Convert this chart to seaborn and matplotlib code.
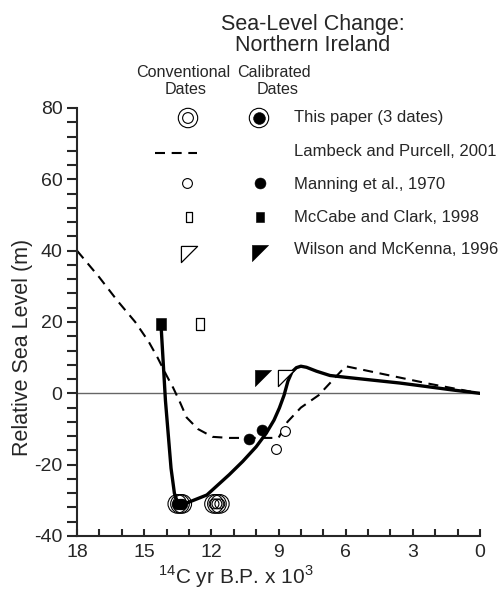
import matplotlib
matplotlib.use("Agg")
import matplotlib.pyplot as plt
import seaborn as sns
import numpy as np

# ---------------- data ----------------
# Calibrated sea-level curve (solid)
curve_x = [14.25, 14.05, 13.8, 13.65, 13.5, 13.3, 13.0, 12.2, 11.2, 10.6, 10.0, 9.55, 9.2, 8.96,
           8.75, 8.58, 8.4, 8.2, 8.0, 7.75, 7.3, 6.7, 6.0, 4.5, 3.6, 2.5, 1.3, 0.0]
curve_y = [19.5, -2.0, -21.0, -28.0, -30.8, -31.3, -30.5, -28.5, -22.8, -19.1, -15.0, -11.2, -7.5, -4.1,
           -0.5, 3.4, 6.0, 7.2, 7.6, 7.3, 6.2, 5.0, 4.5, 3.5, 2.9, 2.0, 1.0, 0.0]
# Lambeck and Purcell, 2001 (dashed)
lambeck_x = [18.0, 17.0, 16.2, 15.4, 14.8, 14.4, 14.0, 13.7, 13.4, 13.1, 12.6, 11.95, 11.2, 9.0,
             8.6, 8.0, 7.2, 6.0, 2.2, 0.0]
lambeck_y = [40.0, 32.5, 26.0, 20.0, 14.5, 10.0, 5.0, 1.5, -2.5, -6.8, -10.0, -12.2, -12.5, -12.5,
             -8.0, -4.0, -0.5, 7.6, 2.6, 0.0]
# This paper (3 dates)
paper_conv_x = [11.88, 11.75, 11.62]
paper_conv_y = [-31.0, -31.0, -31.0]
paper_cal_x = [13.52, 13.4, 13.3]
paper_cal_y = [-31.0, -31.0, -31.0]
# Manning et al., 1970
manning_conv_x = [9.1, 8.7]
manning_conv_y = [-15.5, -10.5]
manning_cal_x = [10.3, 9.75]
manning_cal_y = [-12.7, -10.2]
# McCabe and Clark, 1998
mccabe_conv_x = [12.5]
mccabe_conv_y = [19.5]
mccabe_cal_x = [14.25]
mccabe_cal_y = [19.5]
# Wilson and McKenna, 1996
wilson_conv_x = [8.65]
wilson_conv_y = [4.3]
wilson_cal_x = [9.7]
wilson_cal_y = [4.3]

legend_labels = ["This paper (3 dates)", "Lambeck and Purcell, 2001", "Manning et al., 1970",
                 "McCabe and Clark, 1998", "Wilson and McKenna, 1996"]
x_ticks = [18, 15, 12, 9, 6, 3, 0]
y_ticks = [-40, -20, 0, 20, 40, 60, 80]

# ---------------- style ----------------
sns.set_style("ticks")
plt.rcParams['font.family'] = ['Liberation Sans', 'DejaVu Sans']
plt.rcParams['axes.unicode_minus'] = False
plt.rcParams['mathtext.fontset'] = 'custom'
plt.rcParams['mathtext.rm'] = 'Liberation Sans'

W, H = 500, 590
fig = plt.figure(figsize=(W / 100, H / 100), dpi=100)
ax_l, ax_r, ax_t, ax_b = 77, 480, 108, 536
ax = fig.add_axes([ax_l / W, 1 - ax_b / H, (ax_r - ax_l) / W, (ax_b - ax_t) / H])

tri = [(-1, 1), (1, 1), (-1, -1), (-1, 1)]
rect_open = [(-0.6, -1), (0.6, -1), (0.6, 1), (-0.6, 1), (-0.6, -1)]
rect_fill = [(-0.75, -1), (0.75, -1), (0.75, 1), (-0.75, 1), (-0.75, -1)]
DASH = (0, (4.8, 3.2))

# zero line
ax.axhline(0, color="#666666", lw=1.0, zorder=1)

# curves
sns.lineplot(x=lambeck_x, y=lambeck_y, ax=ax, sort=False, color="black", lw=1.5,
             linestyle=DASH, zorder=2)
sns.lineplot(x=curve_x, y=curve_y, ax=ax, sort=False, color="black", lw=2.4, zorder=3,
             solid_capstyle="round")

def pts(x, y, marker, s, face, lw=1.0, z=4):
    sns.scatterplot(x=x, y=y, ax=ax, marker=marker, s=s, color=face, edgecolor="black",
                    linewidth=lw, zorder=z, legend=False)

S_RING, S_INNER_O, S_INNER_F = 180, 50, 60
S_OC, S_FC = 50, 62
S_RECT, S_TRI = 75, 135

# this paper
pts(paper_conv_x, paper_conv_y, "o", S_RING, "none", 0.8)
pts(paper_conv_x, paper_conv_y, "o", S_INNER_O, "none", 0.8)
pts(paper_cal_x, paper_cal_y, "o", S_RING, "none", 0.8)
pts(paper_cal_x, paper_cal_y, "o", S_INNER_F, "black", 0.4)
# manning
pts(manning_conv_x, manning_conv_y, "o", S_OC, "white", 0.8)
pts(manning_cal_x, manning_cal_y, "o", S_FC, "black", 0.4)
# mccabe
pts(mccabe_conv_x, mccabe_conv_y, rect_open, S_RECT, "white", 0.9)
pts(mccabe_cal_x, mccabe_cal_y, rect_fill, S_RECT, "black", 0.4)
# wilson
pts(wilson_conv_x, wilson_conv_y, tri, S_TRI, "white", 0.9)
pts(wilson_cal_x, wilson_cal_y, tri, S_TRI, "black", 0.4)

# axes
ax.set_xlim(18, 0)
ax.set_ylim(-40, 80)
ax.set_xticks(x_ticks)
ax.set_xticks(np.arange(0, 19, 1), minor=True)
ax.set_yticks(y_ticks)
ax.set_yticks(np.arange(-40, 81, 4), minor=True)
ax.set_xticklabels([str(v) for v in x_ticks])
ax.set_yticklabels([str(v) for v in y_ticks])
ax.tick_params(axis="x", which="both", direction="in", length=5, width=1.5, labelsize=14, pad=6)
ax.tick_params(axis="y", which="both", direction="out", length=7.5, width=1.5, labelsize=14, pad=3)
for sp in ["top", "right"]:
    ax.spines[sp].set_visible(False)
for sp in ["left", "bottom"]:
    ax.spines[sp].set_linewidth(1.5)
ax.set_xlabel("$^{14}$C yr B.P. x 10$^{3}$", fontsize=15, va="baseline", ha="center")
ax.xaxis.set_label_coords((235.5 - ax_l) / (ax_r - ax_l), -(583.5 - ax_b) / (ax_b - ax_t))
ax.set_ylabel("Relative Sea Level (m)", fontsize=15.5, va="center", ha="center")
ax.yaxis.set_label_coords(-(ax_l - 22.5) / (ax_r - ax_l), (ax_b - 347) / (ax_b - ax_t))

# ---------------- legend (manual) ----------------
def fx(px):
    return px / W

def fy(py):
    return 1 - py / H

fig.text(fx(313), fy(30), "Sea-Level Change:", ha="center", va="baseline", fontsize=15.5)
fig.text(fx(313), fy(51), "Northern Ireland", ha="center", va="baseline", fontsize=15.5)
fig.text(fx(183.5), fy(77), "Conventional", ha="center", va="baseline", fontsize=11.6)
fig.text(fx(185.5), fy(94), "Dates", ha="center", va="baseline", fontsize=11.6)
fig.text(fx(274), fy(77), "Calibrated", ha="center", va="baseline", fontsize=11.6)
fig.text(fx(278), fy(94), "Dates", ha="center", va="baseline", fontsize=11.6)

lab_px = 294
text_base = [122, 156, 188.5, 222, 253.5]
for lab, ry in zip(legend_labels, text_base):
    fig.text(fx(lab_px), fy(ry), lab, ha="left", va="baseline", fontsize=12)

tf = fig.transFigure
def lm(px, py, marker, s, face, lw):
    ax.scatter([fx(px)], [fy(py)], s=s, marker=marker, facecolor=face, edgecolor="black",
               lw=lw, transform=tf, clip_on=False, zorder=5)

lm(188, 118, "o", S_RING + 15, "none", 0.8)
lm(188, 118, "o", S_INNER_O + 10, "none", 0.8)
lm(259, 118, "o", S_RING + 15, "none", 0.8)
lm(259, 118, "o", S_INNER_F + 12, "black", 0.4)
ax.plot([fx(155), fx(197)], [fy(153), fy(153)], color="black", lw=1.5, linestyle=DASH,
        transform=tf, clip_on=False)
lm(187, 183, "o", S_OC, "white", 0.8)
lm(260, 183, "o", S_FC, "black", 0.4)
lm(188.5, 216.5, rect_open, 60, "white", 0.9)
lm(260, 216.5, rect_fill, 62, "black", 0.4)
lm(188.5, 254, tri, S_TRI, "white", 0.9)
lm(260, 253, tri, S_TRI, "black", 0.4)

fig.savefig("out.png", dpi=100)
